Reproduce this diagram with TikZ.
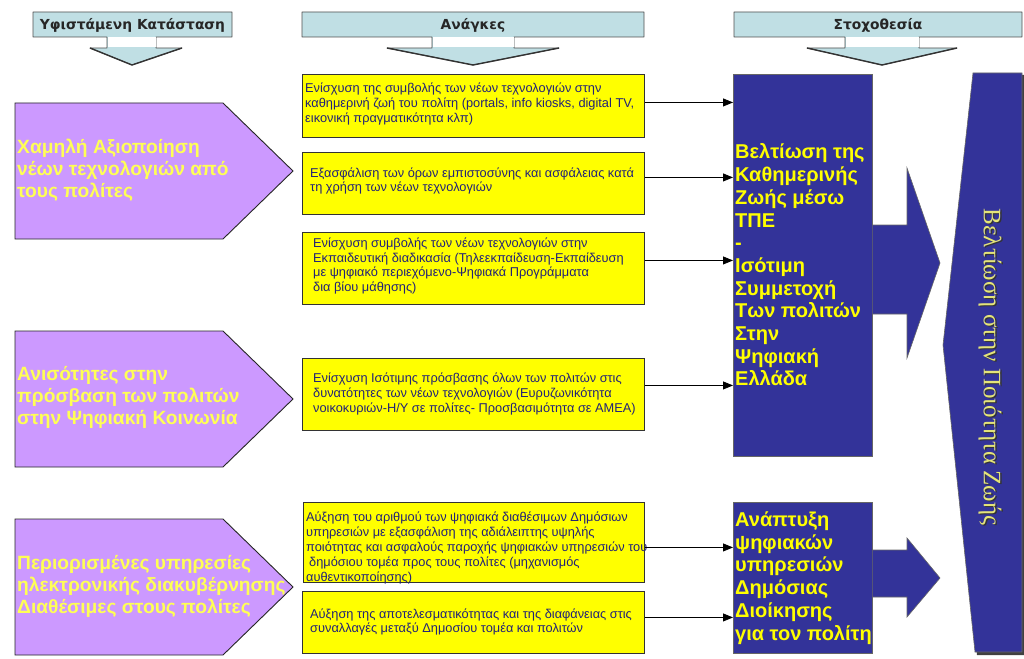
\documentclass[tikz,border=0pt]{standalone}
\usepackage{fontspec}
\setmainfont{Liberation Sans}
\newfontfamily\serifgr{Liberation Serif}
\newfontfamily\hdrfont{DejaVu Sans}
\usetikzlibrary{arrows.meta,calc}
\definecolor{hdrblue}{HTML}{C0DFE4}
\definecolor{hdrline}{HTML}{505050}
\definecolor{purp}{HTML}{CC99FF}
\definecolor{ptext}{HTML}{FFFF55}
\definecolor{yfill}{HTML}{FFFF00}
\definecolor{navy}{HTML}{333399}
\definecolor{ntext}{HTML}{FFFF00}
\definecolor{ytext}{HTML}{222277}
\definecolor{bigtext}{HTML}{E4E47A}
\tikzset{
  hdr/.style={fill=hdrblue, draw=hdrline, line width=0.8pt, line join=round},
  hdrhead/.style={draw=black!80, line width=1.4pt, line join=round},
  htx/.style={font=\hdrfont\bfseries\fontsize{13.8}{16}\selectfont, text=black!85, inner sep=0},
  purpshape/.style={fill=purp, draw=black!85, line width=0.9pt, line join=miter},
  ptx/.style={anchor=west, align=left, inner sep=0, text=ptext, font=\bfseries\fontsize{19.2}{22}\selectfont},
  ybx/.style={rectangle, fill=yfill, draw=black!80, line width=0.9pt, inner sep=0, anchor=north west},
  ytx/.style={anchor=west, align=left, inner sep=0, text=ytext, font=\fontsize{12.8}{14.8}\selectfont},
  nbx/.style={rectangle, fill=navy, draw=black!60, line width=0.6pt, inner sep=0, anchor=north west},
  ntx/.style={anchor=west, align=left, inner sep=0, text=ntext, font=\bfseries\fontsize{20}{22.7}\selectfont},
  navyshape/.style={fill=navy, draw=black!60, line width=0.6pt},
  conn/.style={draw=black, line width=0.8pt, -{Triangle[length=10pt,width=8pt]}}
}
\begin{document}
\begin{tikzpicture}[x=1pt,y=-1pt]
\useasboundingbox (0,0) rectangle (1024,658);
\fill[white] (0,0) rectangle (1024,658);

% ---- header callouts ----
\path[hdr] (33,12) -- (232,12) -- (232,37) -- (156,37) -- (156,48) -- (182,48) -- (132,65) -- (90,48) -- (107,48) -- (107,37) -- (33,37) -- cycle;
\fill[white] (107.5,37.5) rectangle (155.5,47.5);
\draw[hdrhead] (90,48) -- (132,65) -- (182,48);
\node[htx] (h1t) at (132.5,25) {Υφιστάμενη Κατάσταση};

\path[hdr] (302,12) -- (644,12) -- (644,37) -- (514,37) -- (514,48) -- (559,48) -- (473,65) -- (387,48) -- (432,48) -- (432,37) -- (302,37) -- cycle;
\fill[white] (432.5,37.5) rectangle (513.5,47.5);
\draw[hdrhead] (387,48) -- (473,65) -- (559,48);
\node[htx] (h2t) at (473,25) {Ανάγκες};

\path[hdr] (734,12) -- (1022,12) -- (1022,37) -- (919,37) -- (919,48) -- (957,48) -- (882,65) -- (807,48) -- (845,48) -- (845,37) -- (734,37) -- cycle;
\fill[white] (845.5,37.5) rectangle (918.5,47.5);
\draw[hdrhead] (807,48) -- (882,65) -- (957,48);
\node[htx] (h3t) at (878,25) {Στοχοθεσία};

% ---- purple arrows ----
\path[purpshape] (15,103) -- (223,103) -- (293,171) -- (223,239) -- (15,239) -- cycle;
\node[ptx] (p1t) at (17,170) {Χαμηλή Αξιοποίηση\\νέων τεχνολογιών από\\τους πολίτες};
\path[purpshape] (15,331) -- (223,331) -- (293,399) -- (223,467) -- (15,467) -- cycle;
\node[ptx] (p2t) at (17,397) {Ανισότητες στην\\πρόσβαση των πολιτών\\στην Ψηφιακή Κοινωνία};
\path[purpshape] (15,519) -- (223,519) -- (293,587) -- (223,655) -- (15,655) -- cycle;
\node[ptx] (p3t) at (17,586) {Περιορισμένες υπηρεσίες\\ηλεκτρονικής διακυβέρνησης\\Διαθέσιμες στους πολίτες};

% ---- yellow boxes ----
\node[ybx, minimum width=342pt, minimum height=63pt] (y1) at (302,74) {};
\node[ytx] (y1t) at (305,104) {Ενίσχυση της συμβολής των νέων τεχνολογιών στην\\καθημερινή ζωή του πολίτη (portals, info kiosks, digital TV,\\εικονική πραγματικότητα κλπ)};
\node[ybx, minimum width=342pt, minimum height=62pt] (y2) at (302,152) {};
\node[ytx] (y2t) at (310,181) {Εξασφάλιση των όρων εμπιστοσύνης και ασφάλειας κατά\\τη χρήση των νέων τεχνολογιών};
\node[ybx, minimum width=342pt, minimum height=72pt] (y3) at (302,232) {};
\node[ytx] (y3t) at (313,266) {Ενίσχυση συμβολής των νέων τεχνολογιών στην\\Εκπαιδευτική διαδικασία (Τηλεεκπαίδευση-Εκπαίδευση\\με ψηφιακό περιεχόμενο-Ψηφιακά Προγράμματα\\δια βίου μάθησης)};
\node[ybx, minimum width=342pt, minimum height=72pt] (y4) at (302,358) {};
\node[ytx] (y4t) at (313,394) {Ενίσχυση Ισότιμης πρόσβασης όλων των πολιτών στις\\δυνατότητες των νέων τεχνολογιών (Ευρυζωνικότητα\\νοικοκυριών-Η/Υ σε πολίτες- Προσβασιμότητα σε ΑΜΕΑ)};
\node[ybx, minimum width=341pt, minimum height=80pt] (y5) at (303,502) {};
\node[ytx] (y5t) at (306,548) {Αύξηση του αριθμού των ψηφιακά διαθέσιμων Δημόσιων\\υπηρεσιών με εξασφάλιση της αδιάλειπτης υψηλής\\ποιότητας και ασφαλούς παροχής ψηφιακών υπηρεσιών του\\\hspace{3pt}δημόσιου τομέα προς τους πολίτες (μηχανισμός\\αυθεντικοποίησης)};
\node[ybx, minimum width=342pt, minimum height=62pt] (y6) at (302,591) {};
\node[ytx] (y6t) at (310,622) {Αύξηση της αποτελεσματικότητας και της διαφάνειας στις\\συναλλαγές μεταξύ Δημοσίου τομέα και πολιτών};

% ---- navy boxes ----
\node[nbx, minimum width=139pt, minimum height=382pt] (n1) at (733,74) {};
\node[ntx] (n1t) at (735,265) {Βελτίωση της\\Καθημερινής\\Ζωής μέσω\\ΤΠΕ\\-\\Ισότιμη\\Συμμετοχή\\Των πολιτών\\Στην\\Ψηφιακή\\Ελλάδα};
\node[nbx, minimum width=139pt, minimum height=151pt] (n2) at (733,502) {};
\node[ntx] (n2t) at (735,578) {Ανάπτυξη\\ψηφιακών\\υπηρεσιών\\Δημόσιας\\Διοίκησης\\για τον πολίτη};

% ---- connectors ----
\draw[conn] ([yshift=3.5pt]y1.east) -- ([yshift=3.5pt]y1.east -| n1.west);
\draw[conn] ([yshift=6pt]y2.east) -- ([yshift=6pt]y2.east -| n1.west);
\draw[conn] ([yshift=8pt]y3.east) -- ([yshift=8pt]y3.east -| n1.west);
\draw[conn] ([yshift=9pt]y4.east) -- ([yshift=9pt]y4.east -| n1.west);
\draw[conn] ([yshift=-5pt]y5.east) -- ([yshift=-5pt]y5.east -| n2.west);
\draw[conn] ([yshift=5pt]y6.east) -- ([yshift=5pt]y6.east -| n2.west);

% ---- block arrows and big target ----
\fill[black!75] (975,75) -- (1024,75) -- (1024,655) -- (977,655) -- (945,347) -- cycle;
\path[navyshape] (973,73) -- (1022,73) -- (1022,652) -- (975,652) -- (943,345) -- cycle;
\node[rotate=-90, font=\serifgr\fontsize{25}{28}\selectfont, text=black!80, inner sep=0] (bts) at (991.5,368) {Βελτίωση στην Ποιότητα Ζωής};
\node[rotate=-90, font=\serifgr\fontsize{25}{28}\selectfont, text=bigtext, inner sep=0] (bt) at (990,367) {Βελτίωση στην Ποιότητα Ζωής};

\path[navyshape] ([yshift=-151pt]n1.north east) -- (907,225) -- (907,168) -- (940,263) -- (907,358) -- (907,314) -- ([yshift=-240pt]n1.north east);
\path[navyshape] ([yshift=-48pt]n2.north east) -- (907,550) -- (907,538) -- (940,578) -- (907,617) -- (907,597) -- ([yshift=-95pt]n2.north east);
\end{tikzpicture}
\end{document}
